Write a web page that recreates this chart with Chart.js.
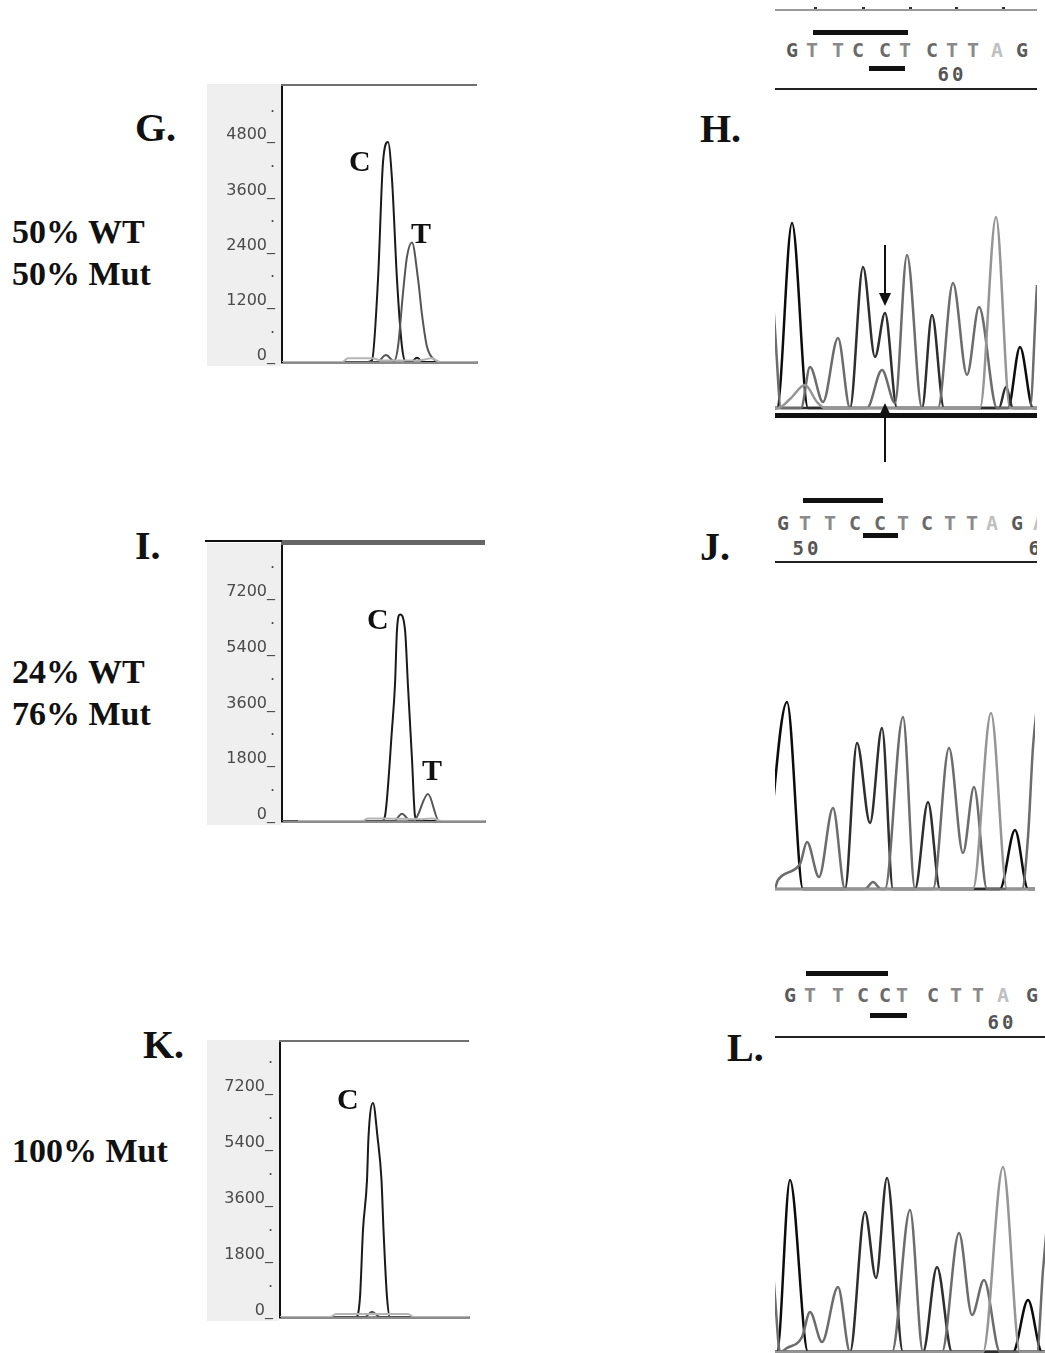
<!DOCTYPE html>
<html>
<head>
<meta charset="utf-8">
<script src="https://cdn.jsdelivr.net/npm/chart.js@4.4.1/dist/chart.umd.min.js"></script>
<style>
  body { margin: 0; background: #fff; }
  #page { position: relative; width: 1045px; height: 1353px; overflow: hidden; background: #fff; }
  canvas { position: absolute; }
  .lbl { position: absolute; font-family: 'Liberation Serif', 'Times New Roman', serif; font-weight: bold; line-height: 1; white-space: nowrap; color: #111; }
  .hdr { position: absolute; left: 775px; overflow: hidden; }
  .seq { position: absolute; font-family: 'DejaVu Sans Mono', monospace; font-weight: bold; font-size: 20px; line-height: 20px; transform: translateX(-50%); }
  .bar { position: absolute; background: #111; }
</style>
</head>
<body>
<div id="page">
  <div class="lbl" style="left:135px;top:108px;font-size:40px">G.</div>
  <div class="lbl" style="left:700px;top:109px;font-size:40px">H.</div>
  <div class="lbl" style="left:135px;top:526px;font-size:40px">I.</div>
  <div class="lbl" style="left:700px;top:527px;font-size:40px">J.</div>
  <div class="lbl" style="left:143px;top:1025px;font-size:40px">K.</div>
  <div class="lbl" style="left:727px;top:1028px;font-size:40px">L.</div>

  <div class="lbl" style="left:12px;top:215px;font-size:34px">50% WT</div>
  <div class="lbl" style="left:12px;top:257px;font-size:34px">50% Mut</div>
  <div class="lbl" style="left:12px;top:655px;font-size:34px">24% WT</div>
  <div class="lbl" style="left:12px;top:697px;font-size:34px">76% Mut</div>
  <div class="lbl" style="left:12px;top:1134px;font-size:34px">100% Mut</div>

  <canvas id="chartG" width="272" height="290" style="left:207px;top:80px"></canvas>
  <canvas id="chartI" width="282" height="295" style="left:205px;top:535px"></canvas>
  <canvas id="chartK" width="266" height="290" style="left:205px;top:1035px"></canvas>
  <canvas id="chartH" width="262" height="225" style="left:775px;top:195px"></canvas>
  <canvas id="chartJ" width="260" height="212" style="left:775px;top:680px"></canvas>
  <canvas id="chartL" width="270" height="203" style="left:775px;top:1150px"></canvas>

  <div class="lbl" style="left:349px;top:146px;font-size:30px">C</div>
  <div class="lbl" style="left:411px;top:218px;font-size:30px">T</div>
  <div class="lbl" style="left:367px;top:604px;font-size:30px">C</div>
  <div class="lbl" style="left:422px;top:755px;font-size:30px">T</div>
  <div class="lbl" style="left:337px;top:1084px;font-size:30px">C</div>
</div>
<script>
// ---- peak panels G / I / K : x = scan offset from the axis, y = signal ----
const gCx = [0, 86, 90, 96, 101, 106, 110, 115, 120, 124, 129, 135, 141, 195];
const gCy = [0, 0, 40, 1790, 4340, 4780, 3970, 1790, 330, 0, 0, 90, 0, 0];
const gTx = [0, 95, 104, 112, 116, 121, 125, 130, 136, 140, 145, 153, 158, 195];
const gTy = [0, 0, 150, 20, 330, 1500, 2290, 2600, 1810, 1030, 330, 40, 0, 0];
const gLx = [0, 60, 66, 90, 100, 135, 150, 158, 195];
const gLy = [0, 0, 80, 80, 30, 30, 80, 0, 0];
const gMajor = [0, 1200, 2400, 3600, 4800];
const gMinor = [600, 1800, 3000, 4200, 5400];

const iCx = [0, 100, 103, 110, 113, 115, 118, 123, 126, 130, 133, 136, 203];
const iCy = [0, 0, 160, 2960, 4400, 6170, 6660, 6170, 4340, 1990, 160, 0, 0];
const iTx = [0, 112, 120, 128, 133, 146, 157, 203];
const iTy = [0, 0, 230, 20, 50, 870, 0, 0];
const iLx = [16, 80, 86, 100, 140, 150, 160, 203];
const iLy = [0, 0, 80, 80, 60, 80, 0, 0];
const iMajor = [0, 1800, 3600, 5400, 7200];
const iMinor = [900, 2700, 4500, 6300, 8100];

const kCx = [0, 76, 80, 83, 87, 88.5, 93, 97.5, 101.5, 103.5, 107, 110, 189];
const kCy = [0, 0, 640, 2800, 4400, 5790, 6880, 5790, 4400, 2800, 640, 0, 0];
const kTx = [0, 85, 92, 100, 189];
const kTy = [0, 0, 170, 0, 0];
const kLx = [0, 50, 56, 128, 134, 189];
const kLy = [0, 0, 100, 100, 0, 0];
const kMajor = [0, 1800, 3600, 5400, 7200];
const kMinor = [900, 2700, 4500, 6300, 8100];

// ---- sequencing traces H / J / L : x = scan, y = signal (G, C, T, A) ----
const hGx = [0, 2, 17, 33, 233, 245, 258, 262];
const hGy = [0, 0, 1850, 0, 0, 610, 0, 0];
const hCx = [0, 75, 88, 100, 110, 122, 147, 157, 169, 224, 231, 238, 262];
const hCy = [0, 0, 1410, 510, 950, 0, 0, 930, 0, 0, 210, 0, 0];
const hTx = [-5, 0, 6, 26, 35, 48, 63, 75, 92, 107, 120, 132, 147, 163, 178, 192, 204, 222, 255, 262, 268];
const hTy = [1500, 780, 0, 0, 410, 60, 700, 0, 0, 380, 50, 1530, 0, 0, 1250, 330, 1010, 0, 0, 1230, 2000];
const hAx = [0, 3, 15, 30, 42, 50, 205, 221, 235, 262];
const hAy = [0, 0, 90, 230, 60, 0, 0, 1910, 0, 0];

const jGx = [-10, 12, 28, 225, 240, 253, 262];
const jGy = [0, 1870, 0, 0, 590, 0, 0];
const jCx = [0, 70, 82, 95, 107, 118, 140, 153, 165, 262];
const jCy = [0, 0, 1460, 660, 1610, 0, 0, 870, 0, 0];
const jTx = [0, 3, 25, 32, 44, 58, 70, 90, 98, 106, 110, 128, 140, 158, 174, 188, 199, 212, 247, 253, 258, 264];
const jTy = [0, 90, 250, 470, 120, 810, 0, 0, 70, 0, 0, 1720, 0, 0, 1410, 360, 1020, 0, 0, 520, 1420, 2000];
const jAx = [0, 198, 216, 232, 262];
const jAy = [0, 0, 1760, 0, 0];

const lGx = [0, 2, 15, 33, 238, 253, 267, 270];
const lGy = [0, 0, 1720, 0, 0, 520, 0, 0];
const lCx = [0, 75, 90, 101, 112, 128, 148, 162, 177, 270];
const lCy = [0, 0, 1400, 740, 1740, 0, 0, 850, 0, 0];
const lTx = [-5, 0, 5, 12, 27, 35, 47, 63, 75, 117, 135, 148, 167, 184, 197, 209, 225, 262, 268, 274];
const lTy = [1200, 550, 0, 40, 150, 400, 100, 650, 0, 0, 1420, 0, 0, 1190, 370, 720, 0, 0, 820, 1500];
const lAx = [0, 208, 228, 245, 270];
const lAy = [0, 0, 1850, 0, 0];

// base calls (scan of each called base)
const seqBases = ['G', 'T', 'T', 'C', 'C', 'T', 'C', 'T', 'T', 'A', 'G'];
const hCalls = [17, 37, 63, 83, 110, 130, 157, 177, 198, 222, 247];
const jCalls = [8, 30, 55, 80, 105, 128, 152, 175, 197, 217, 242];
const lCalls = [15, 35, 63, 88, 110, 127, 158, 181, 203, 228, 257];
const baseColor = { G: '#5a5a5a', T: '#8a8a8a', C: '#6a6a6a', A: '#c0c0c0' };

function pts(xs, ys) { return xs.map((x, i) => ({ x: x, y: ys[i] })); }

function trace(xs, ys, color, w) {
  return {
    data: pts(xs, ys), borderColor: color, borderWidth: w || 2, showLine: true,
    pointRadius: 0, fill: false, cubicInterpolationMode: 'monotone'
  };
}

// grey label strip and top border of the peak panels
const framePlugin = {
  id: 'frame',
  beforeDraw(chart, args, o) {
    const a = chart.chartArea, ctx = chart.ctx;
    ctx.save();
    ctx.fillStyle = '#efefef';
    ctx.fillRect(o.shadeLeft, a.top - 2, a.left - 1 - o.shadeLeft, a.bottom - a.top + 6);
    ctx.restore();
  },
  afterDraw(chart, args, o) {
    const a = chart.chartArea, ctx = chart.ctx;
    ctx.save();
    ctx.fillStyle = o.topColor;
    ctx.fillRect(a.left - 1, a.top - o.topWidth, a.right - a.left + 1, o.topWidth);
    if (o.topExt) {
      ctx.fillStyle = o.topExt;
      ctx.fillRect(0, a.top - o.topWidth, a.left, 2);
    }
    ctx.restore();
  }
};

// baselines under the sequencing traces
const basePlugin = {
  id: 'baseLines',
  beforeDatasetsDraw(chart, args, o) {
    const ctx = chart.ctx, a = chart.chartArea, y = chart.scales.y;
    ctx.save();
    o.lines.forEach(l => {
      const p = y.getPixelForValue(l.value);
      ctx.fillStyle = l.color;
      ctx.fillRect(a.left, p - l.width / 2, a.right - a.left, l.width);
    });
    ctx.restore();
  }
};

function peakPanel(id, c) {
  const all = c.major.concat(c.minor).sort((a, b) => a - b);
  return new Chart(document.getElementById(id), {
    type: 'scatter',
    data: { datasets: [
      trace(c.lx, c.ly, '#b5b5b5'),
      trace(c.tx, c.ty, '#555'),
      trace(c.cx, c.cy, '#1a1a1a')
    ] },
    options: {
      responsive: false, animation: false, events: [],
      layout: { padding: c.pad },
      plugins: { legend: { display: false }, tooltip: { enabled: false }, frame: c.frame },
      scales: {
        x: {
          type: 'linear', min: 0, max: c.xmax,
          afterFit: s => { s.height = 2; s.paddingLeft = 0; s.paddingRight = 0; },
          ticks: { display: false },
          grid: { drawOnChartArea: false, drawTicks: false },
          border: { color: '#8c8c8c', width: 3 }
        },
        y: {
          min: 0, max: c.ymax,
          afterFit: s => { s.width = c.axisW; s.paddingTop = 0; s.paddingBottom = 0; },
          afterBuildTicks: s => { s.ticks = all.map(v => ({ value: v })); },
          grid: { drawOnChartArea: false, drawTicks: false },
          border: { color: '#111', width: 2 },
          ticks: {
            autoSkip: false, padding: 7, labelOffset: -6, color: '#4a4a4a',
            font: { family: 'DejaVu Sans', size: 16 },
            callback: v => c.major.includes(v) ? v + '_' : '.'
          }
        }
      }
    },
    plugins: [framePlugin]
  });
}

function tracePanel(id, c) {
  return new Chart(document.getElementById(id), {
    type: 'scatter',
    data: { datasets: [
      trace(c.ax, c.ay, '#959595', 2.5),
      trace(c.tx, c.ty, '#6c6c6c', 2.5),
      trace(c.cx, c.cy, '#2e2e2e', 2.5),
      trace(c.gx, c.gy, '#0c0c0c', 2.5)
    ] },
    options: {
      responsive: false, animation: false, events: [],
      layout: { padding: 0 },
      plugins: { legend: { display: false }, tooltip: { enabled: false }, baseLines: { lines: c.lines } },
      scales: {
        x: { type: 'linear', display: false, min: 0, max: c.xmax },
        y: { display: false, min: c.ymin, max: c.ymax }
      }
    },
    plugins: [basePlugin]
  });
}

peakPanel('chartG', {
  cx: gCx, cy: gCy, tx: gTx, ty: gTy, lx: gLx, ly: gLy, major: gMajor, minor: gMinor,
  xmax: 195, ymax: 6000, axisW: 75, pad: { top: 6, right: 2, bottom: 6, left: 0 },
  frame: { shadeLeft: 0, topColor: '#707070', topWidth: 2 }
});
peakPanel('chartI', {
  cx: iCx, cy: iCy, tx: iTx, ty: iTy, lx: iLx, ly: iLy, major: iMajor, minor: iMinor,
  xmax: 203, ymax: 8900, axisW: 77, pad: { top: 10, right: 2, bottom: 7, left: 0 },
  frame: { shadeLeft: 2, topColor: '#666', topWidth: 5, topExt: '#111' }
});
peakPanel('chartK', {
  cx: kCx, cy: kCy, tx: kTx, ty: kTy, lx: kLx, ly: kLy, major: kMajor, minor: kMinor,
  xmax: 189, ymax: 8840, axisW: 75, pad: { top: 7, right: 2, bottom: 6, left: 0 },
  frame: { shadeLeft: 2, topColor: '#707070', topWidth: 2 }
});

const chartH = tracePanel('chartH', {
  gx: hGx, gy: hGy, cx: hCx, cy: hCy, tx: hTx, ty: hTy, ax: hAx, ay: hAy,
  xmax: 262, ymin: -120, ymax: 2130,
  lines: [{ value: 0, width: 2, color: '#111' }, { value: -75, width: 5, color: '#111' }]
});
const chartJ = tracePanel('chartJ', {
  gx: jGx, gy: jGy, cx: jCx, cy: jCy, tx: jTx, ty: jTy, ax: jAx, ay: jAy,
  xmax: 260, ymin: -30, ymax: 2090,
  lines: [{ value: 0, width: 2, color: '#222' }]
});
const chartL = tracePanel('chartL', {
  gx: lGx, gy: lGy, cx: lCx, cy: lCy, tx: lTx, ty: lTy, ax: lAx, ay: lAy,
  xmax: 270, ymin: -10, ymax: 2020,
  lines: [{ value: 0, width: 3, color: '#555' }]
});

// sequence header above each trace, placed with the trace's x scale
function header(chart, h) {
  const sx = v => chart.scales.x.getPixelForValue(v);
  const box = document.createElement('div');
  box.className = 'hdr';
  box.style.top = h.top + 'px';
  box.style.width = h.width + 'px';
  box.style.height = h.height + 'px';
  const add = (html) => { box.insertAdjacentHTML('beforeend', html); };
  if (h.ruler !== undefined) {
    add(`<div class="bar" style="left:0;top:${h.ruler}px;width:${h.width}px;height:2px;background:#9a9a9a"></div>`);
    h.dots.forEach(d => add(`<div class="bar" style="left:${sx(d) - 1}px;top:${h.ruler - 2}px;width:3px;height:2px;background:#333"></div>`));
  }
  add(`<div class="bar" style="left:${sx(h.topBar[0])}px;top:${h.topBar[2]}px;width:${sx(h.topBar[1]) - sx(h.topBar[0])}px;height:5px"></div>`);
  add(`<div class="bar" style="left:${sx(h.lowBar[0])}px;top:${h.lowBar[2]}px;width:${sx(h.lowBar[1]) - sx(h.lowBar[0])}px;height:5px"></div>`);
  h.calls.forEach((s, i) => {
    const b = h.bases[i];
    add(`<div class="seq" style="left:${sx(s)}px;top:${h.letterY - 10}px;color:${baseColor[b]}">${b}</div>`);
  });
  h.nums.forEach(n => add(`<div class="seq" style="left:${sx(n[1])}px;top:${n[2] - 10}px;color:#555;font-size:19px;letter-spacing:3px">${n[0]}</div>`));
  add(`<div class="bar" style="left:0;top:${h.line}px;width:${h.width}px;height:2px;background:#222"></div>`);
  document.getElementById('page').appendChild(box);
}

header(chartH, {
  top: 0, height: 95, width: 262, ruler: 9, dots: [40, 88, 135, 181, 228],
  topBar: [38, 133, 30], lowBar: [94, 130, 66], calls: hCalls, bases: seqBases, letterY: 50,
  nums: [['60', 177, 74]], line: 88
});
header(chartJ, {
  top: 480, height: 90, width: 262,
  topBar: [28, 108, 18], lowBar: [88, 123, 53], calls: jCalls.concat([264]), bases: seqBases.concat(['A']), letterY: 43,
  nums: [['50', 32, 68], ['60', 268, 68]], line: 81
});
header(chartL, {
  top: 960, height: 85, width: 270,
  topBar: [31, 113, 11], lowBar: [95, 132, 53], calls: lCalls, bases: seqBases, letterY: 35,
  nums: [['60', 227, 62]], line: 76
});

// arrows marking the mixed C/T position in H
(function () {
  const x = 775 + chartH.scales.x.getPixelForValue(110);
  const ns = 'http://www.w3.org/2000/svg';
  const svg = document.createElementNS(ns, 'svg');
  svg.setAttribute('width', 1045); svg.setAttribute('height', 1353);
  svg.style.position = 'absolute'; svg.style.left = 0; svg.style.top = 0;
  svg.innerHTML =
    `<line x1="${x}" y1="245" x2="${x}" y2="295" stroke="#111" stroke-width="2"/>` +
    `<polygon points="${x - 6},293 ${x + 6},293 ${x},306" fill="#111"/>` +
    `<line x1="${x}" y1="414" x2="${x}" y2="462" stroke="#111" stroke-width="2"/>` +
    `<polygon points="${x - 6},416 ${x + 6},416 ${x},403" fill="#111"/>`;
  document.getElementById('page').appendChild(svg);
})();
</script>
</body>
</html>
